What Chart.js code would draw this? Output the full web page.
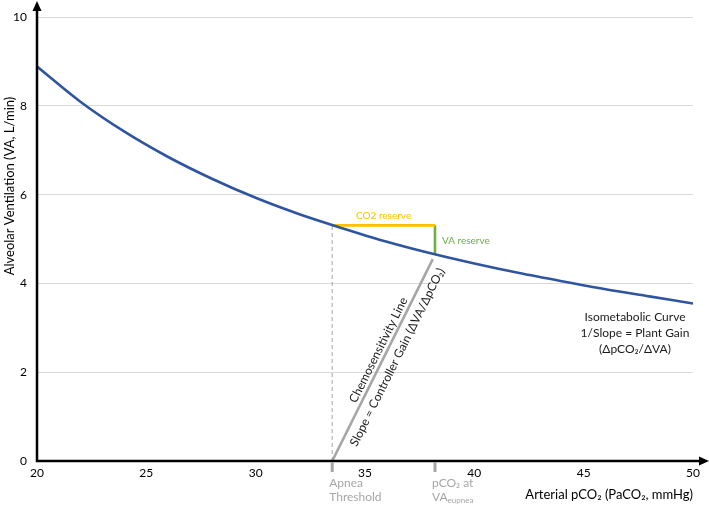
<!DOCTYPE html>
<html>
<head>
<meta charset="utf-8">
<script src="https://cdn.jsdelivr.net/npm/chart.js@4/dist/chart.umd.min.js"></script>
<style>
  html, body { margin: 0; padding: 0; background: #fff; }
  #wrap { width: 709px; height: 506px; position: relative; }
</style>
</head>
<body>
<div id="wrap"><canvas id="c"></canvas></div>
<script>
// ---- data ----
const pco2Values = [20, 22, 24, 26, 28, 30, 32, 34, 36, 38, 40, 42, 44, 46, 48, 50];
const vaValues   = [8.89, 8.09, 7.42, 6.85, 6.36, 5.93, 5.56, 5.24, 4.94, 4.68, 4.45, 4.24, 4.05, 3.87, 3.71, 3.55];
const xTickValues = [20, 25, 30, 35, 40, 45, 50];
const yTickValues = [0, 2, 4, 6, 8, 10];
const apneaThreshold = 33.5;   // PaCO2 at apnea threshold
const eupneaPco2 = 38.2;       // PaCO2 at eupnea
const eupneaVA = 4.65;         // VA at eupnea (on the curve)
const reserveVA = 5.31;        // VA on the curve at apnea threshold
const chemoLineX = [33.5, 38.1];
const chemoLineY = [0, 4.55];

const FONT = 'Lato, "Open Sans", sans-serif';
const GRAY = '#A6A6A6';

const curve = pco2Values.map((x, i) => ({x, y: vaValues[i]}));
const chemo = chemoLineX.map((x, i) => ({x, y: chemoLineY[i]}));

const annotations = {
  id: 'annotations',
  afterDraw(chart) {
    const {ctx, chartArea, scales: {x, y}} = chart;
    const px = v => x.getPixelForValue(v);
    const py = v => y.getPixelForValue(v);
    ctx.save();

    // axes with arrowheads
    ctx.strokeStyle = '#000';
    ctx.fillStyle = '#000';
    ctx.lineWidth = 2.5;
    const ax = chartArea.left, ay = chartArea.bottom;
    ctx.beginPath(); ctx.moveTo(ax, ay + 1); ctx.lineTo(ax, 8); ctx.stroke();
    ctx.beginPath(); ctx.moveTo(ax - 1, ay); ctx.lineTo(702, ay); ctx.stroke();
    ctx.beginPath(); ctx.moveTo(ax, 1); ctx.lineTo(ax - 4.5, 11); ctx.lineTo(ax + 4.5, 11); ctx.closePath(); ctx.fill();
    ctx.beginPath(); ctx.moveTo(709, ay); ctx.lineTo(699, ay - 4.5); ctx.lineTo(699, ay + 4.5); ctx.closePath(); ctx.fill();

    // y axis title
    ctx.save();
    ctx.translate(10, 186);
    ctx.rotate(-Math.PI / 2);
    ctx.font = '13px ' + FONT;
    ctx.fillStyle = '#000';
    ctx.textAlign = 'center';
    ctx.textBaseline = 'middle';
    ctx.fillText('Alveolar Ventilation (VA, L/min)', 0, 0);
    ctx.restore();

    // gray markers below the axis
    ctx.strokeStyle = GRAY;
    ctx.lineWidth = 3;
    [apneaThreshold, eupneaPco2].forEach(v => {
      ctx.beginPath(); ctx.moveTo(px(v), ay + 1); ctx.lineTo(px(v), ay + 11); ctx.stroke();
    });

    // gray labels
    ctx.fillStyle = GRAY;
    ctx.font = '12px ' + FONT;
    ctx.textAlign = 'left';
    ctx.textBaseline = 'middle';
    const ax1 = px(apneaThreshold) - 3;
    ctx.fillText('Apnea', ax1, 483);
    ctx.fillText('Threshold', ax1, 497);
    const ex1 = px(eupneaPco2) - 3;
    ctx.fillText('pCO\u2082 at', ex1, 483);
    ctx.fillText('VA', ex1, 497);
    const vaW = ctx.measureText('VA').width;
    ctx.font = '8px ' + FONT;
    ctx.fillText('eupnea', ex1 + vaW, 500);

    // reserve labels
    ctx.font = '10px ' + FONT;
    ctx.fillStyle = '#FFC000';
    ctx.textAlign = 'center';
    ctx.fillText('CO2 reserve', (px(apneaThreshold) + px(eupneaPco2)) / 2, py(reserveVA) - 10);
    ctx.fillStyle = '#70AD47';
    ctx.textAlign = 'left';
    ctx.fillText('VA reserve', px(eupneaPco2) + 7, py((reserveVA + eupneaVA) / 2) + 1);

    // isometabolic labels
    ctx.fillStyle = '#1a1a1a';
    ctx.font = '12px ' + FONT;
    ctx.textAlign = 'center';
    ctx.fillText('Isometabolic Curve', 635, 317);
    ctx.fillText('1/Slope = Plant Gain', 635, 333);
    ctx.fillText('(\u0394pCO\u2082/\u0394VA)', 635, 349);

    // rotated labels along the chemosensitivity line
    const p0 = {x: px(chemoLineX[0]), y: py(chemoLineY[0])};
    const p1 = {x: px(chemoLineX[1]), y: py(chemoLineY[1])};
    const ang = Math.atan2(p1.y - p0.y, p1.x - p0.x);
    const ux = Math.cos(ang), uy = Math.sin(ang);
    const nx = uy, ny = -ux; // normal pointing up-left
    const put = (text, along, perp) => {
      const cx = p0.x + ux * along + nx * perp;
      const cy = p0.y + uy * along + ny * perp;
      ctx.save();
      ctx.translate(cx, cy);
      ctx.rotate(ang);
      ctx.textAlign = 'center';
      ctx.textBaseline = 'middle';
      ctx.fillText(text, 0, 0);
      ctx.restore();
    };
    put('Chemosensitivity Line', 120, 8);
    put('Slope = Controller Gain (\u0394VA/\u0394pCO\u2082)', 122, -12);

    ctx.restore();
  }
};

new Chart(document.getElementById('c'), {
  type: 'scatter',
  data: {
    datasets: [
      {
        label: 'Isometabolic Curve',
        data: curve,
        showLine: true,
        borderColor: '#2F55A0',
        borderWidth: 2.6,
        pointRadius: 0,
        cubicInterpolationMode: 'monotone',
        order: 1
      },
      {
        label: 'Chemosensitivity Line',
        data: chemo,
        showLine: true,
        borderColor: GRAY,
        borderWidth: 2.6,
        pointRadius: 0,
        order: 2
      },
      {
        label: 'Apnea threshold guide',
        data: [{x: apneaThreshold, y: 0}, {x: apneaThreshold, y: reserveVA}],
        showLine: true,
        borderColor: GRAY,
        borderWidth: 1,
        borderDash: [4, 3],
        pointRadius: 0,
        order: 3
      },
      {
        label: 'CO2 reserve',
        data: [{x: apneaThreshold, y: reserveVA}, {x: eupneaPco2, y: reserveVA}],
        showLine: true,
        borderColor: '#FFC000',
        borderWidth: 2.6,
        pointRadius: 0,
        order: 2
      },
      {
        label: 'VA reserve',
        data: [{x: eupneaPco2, y: reserveVA}, {x: eupneaPco2, y: eupneaVA}],
        showLine: true,
        borderColor: '#70AD47',
        borderWidth: 2.6,
        pointRadius: 0,
        order: 2
      }
    ]
  },
  options: {
    responsive: true,
    maintainAspectRatio: false,
    animation: false,
    layout: { padding: { top: 12, right: 16, left: 0, bottom: 0 } },
    plugins: { legend: { display: false }, tooltip: { enabled: false } },
    scales: {
      x: {
        type: 'linear',
        min: 20, max: 50,
        afterFit(scale) { scale.height = 45; },
        afterBuildTicks(scale) { scale.ticks = xTickValues.map(v => ({value: v})); },
        grid: { display: false, drawTicks: false },
        border: { display: false },
        ticks: { color: '#000', font: { family: FONT, size: 12 }, padding: 5, maxRotation: 0 },
        title: {
          display: true,
          text: 'Arterial pCO\u2082 (PaCO\u2082, mmHg)',
          align: 'end',
          color: '#000',
          font: { family: FONT, size: 13 },
          padding: { top: 0, bottom: 3 }
        }
      },
      y: {
        type: 'linear',
        min: 0, max: 10,
        afterFit(scale) { scale.width = 37; },
        afterBuildTicks(scale) { scale.ticks = yTickValues.map(v => ({value: v})); },
        grid: { color: '#D9D9D9', lineWidth: 1, drawTicks: false },
        border: { display: false },
        ticks: { color: '#000', font: { family: FONT, size: 12 }, padding: 10 },
        title: { display: false }
      }
    }
  },
  plugins: [annotations]
});
</script>
</body>
</html>
